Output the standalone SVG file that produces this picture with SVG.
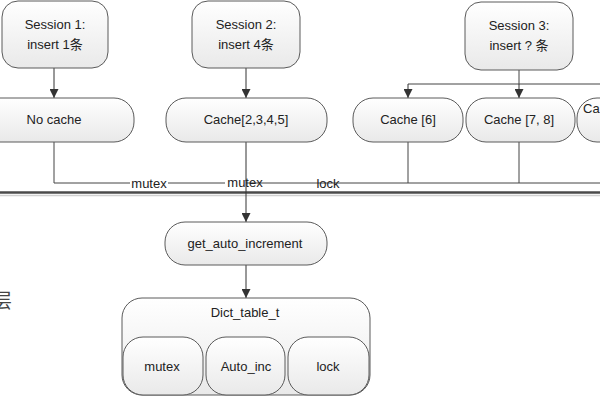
<svg xmlns="http://www.w3.org/2000/svg" width="600" height="400" viewBox="0 0 600 400">
<defs>
<linearGradient id="g" x1="0" y1="0" x2="0" y2="1">
<stop offset="0" stop-color="#ffffff"/>
<stop offset="1" stop-color="#e9e9e9"/>
</linearGradient>
<marker id="ah" viewBox="0 0 10 10" refX="10" refY="5" markerWidth="9" markerHeight="9" markerUnits="userSpaceOnUse" orient="auto">
<path d="M0,0 L10,5 L0,10 z" fill="#333"/>
</marker>
<style>
.box{fill:url(#g);stroke:#5a5a5a;stroke-width:1}
.t{font-family:"Liberation Sans","Noto Sans CJK SC",sans-serif;font-size:13px;fill:#222;text-anchor:middle}
.c{fill:none;stroke:#444;stroke-width:1}
.a{fill:none;stroke:#333;stroke-width:1;marker-end:url(#ah)}
</style>
</defs>
<rect width="600" height="400" fill="#fff"/>

<g id="connectors">
<line class="a" x1="54" y1="68" x2="54" y2="98"/>
<line class="a" x1="246" y1="68" x2="246" y2="98"/>
<polyline class="c" points="519,70 519,84"/>
<line class="c" x1="408" y1="84" x2="600" y2="84"/>
<line class="a" x1="408" y1="84" x2="408" y2="98"/>
<line class="a" x1="519" y1="84" x2="519" y2="98"/>
<polyline class="c" points="54,142 54,183 130,183"/>
<line class="c" x1="168" y1="183" x2="225" y2="183"/>
<line class="c" x1="246" y1="183" x2="600" y2="183"/>
<line class="c" x1="408" y1="142" x2="408" y2="183"/>
<line class="c" x1="519" y1="142" x2="519" y2="183"/>
<line x1="0" y1="192.5" x2="600" y2="192.5" stroke="#4a4a4a" stroke-width="2.5"/>
<line x1="0" y1="195.5" x2="600" y2="195.5" stroke="#d0d0d0" stroke-width="1.5"/>
<line class="a" x1="246" y1="142" x2="246" y2="222"/>
<line class="a" x1="246" y1="265" x2="246" y2="298"/>
<text class="t" x="149" y="188">mutex</text>
<text class="t" x="245" y="187">mutex</text>
<text class="t" x="328" y="188">lock</text>
</g>

<g id="session1">
<rect class="box" x="2" y="1" width="106" height="67" rx="16"/>
<text class="t" x="55" y="29">Session 1:</text>
<text class="t" x="55" y="49">insert 1条</text>
</g>
<g id="session2">
<rect class="box" x="192" y="1" width="108" height="67" rx="16"/>
<text class="t" x="246" y="29">Session 2:</text>
<text class="t" x="246" y="49">insert 4条</text>
</g>
<g id="session3">
<rect class="box" x="465" y="2" width="108" height="68" rx="16"/>
<text class="t" x="519" y="30">Session 3:</text>
<text class="t" x="519" y="50">insert ? 条</text>
</g>

<g id="nocache">
<rect class="box" x="-26" y="98" width="160" height="44" rx="20"/>
<text class="t" x="54" y="124">No cache</text>
</g>
<g id="cache2345">
<rect class="box" x="166" y="98" width="161" height="44" rx="20"/>
<text class="t" x="246" y="124">Cache[2,3,4,5]</text>
</g>
<g id="cache6">
<rect class="box" x="353" y="98" width="110" height="44" rx="20"/>
<text class="t" x="408" y="124">Cache [6]</text>
</g>
<g id="cache78">
<rect class="box" x="466" y="98" width="109" height="44" rx="20"/>
<text class="t" x="519" y="124">Cache [7, 8]</text>
</g>
<g id="cache9">
<rect class="box" x="577" y="98" width="100" height="44" rx="20"/>
<text class="t" x="583" y="113" style="text-anchor:start">Ca</text>
</g>

<g id="getautoinc">
<rect class="box" x="165" y="222" width="162" height="43" rx="20"/>
<text class="t" x="245" y="248">get_auto_increment</text>
</g>

<g id="dicttable">
<rect class="box" x="122" y="298" width="248" height="97" rx="20"/>
<text class="t" x="245" y="317">Dict_table_t</text>
</g>
<g id="mutex">
<rect class="box" x="123" y="337" width="80" height="58" rx="20"/>
<text class="t" x="162" y="371">mutex</text>
</g>
<g id="autoinc">
<rect class="box" x="206" y="337" width="79" height="58" rx="20"/>
<text class="t" x="246" y="371">Auto_inc</text>
</g>
<g id="lock">
<rect class="box" x="288" y="337" width="81" height="58" rx="20"/>
<text class="t" x="328" y="371">lock</text>
</g>

<text x="-8" y="308" style="font-family:'Noto Sans CJK SC',sans-serif;font-size:20px;fill:#444">层</text>
</svg>
